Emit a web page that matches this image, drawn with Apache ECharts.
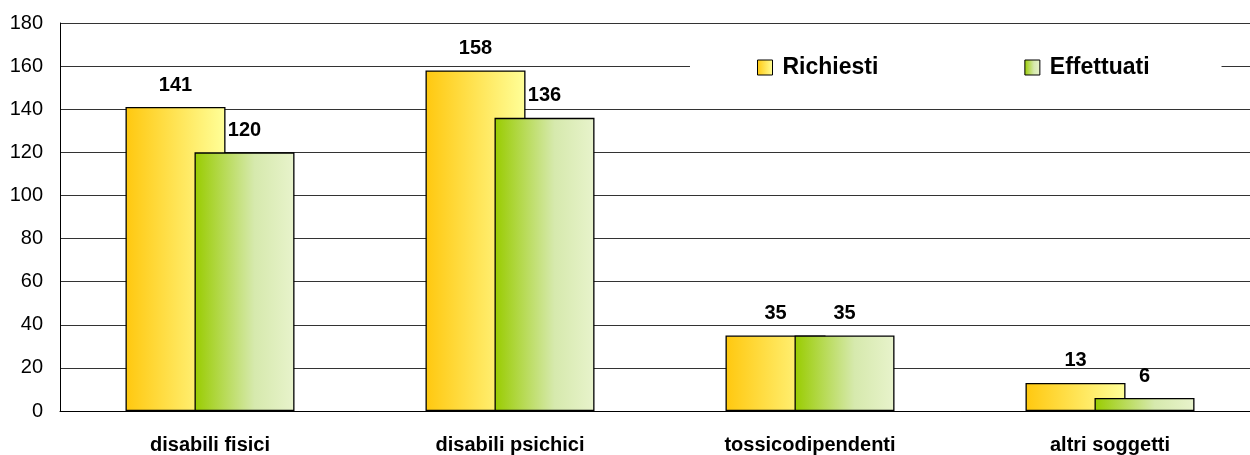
<!DOCTYPE html>
<html>
<head>
<meta charset="utf-8">
<script src="https://cdn.jsdelivr.net/npm/echarts@6/dist/echarts.min.js"></script>
<style>
  html, body { margin: 0; padding: 0; background: #fff; overflow: hidden; }
  /* il grafico originale prosegue oltre il bordo destro: canvas un po' piu' largo */
  #main { width: 1260px; height: 455px; }
</style>
</head>
<body>
<div id="main"></div>
<script>
const categories = ['disabili fisici', 'disabili psichici', 'tossicodipendenti', 'altri soggetti'];
const richiesti = [141, 158, 35, 13];
const effettuati = [120, 136, 35, 6];
const seriesNames = ['Richiesti', 'Effettuati'];

const font = '"Liberation Sans", Arial, sans-serif';

// gradienti orizzontali come nell'originale
const yellowFill = new echarts.graphic.LinearGradient(0, 0, 1, 0, [
    { offset: 0, color: '#ffc80f' },
    { offset: 1, color: '#ffff99' }
]);
const greenFill = new echarts.graphic.LinearGradient(0, 0, 1, 0, [
    { offset: 0, color: '#99cc00' },
    { offset: 0.6, color: '#d6e9ad' },
    { offset: 1, color: '#e8f3cc' }
]);

const barLabel = {
    show: true,
    position: 'top',
    distance: 12,
    color: '#000',
    fontFamily: font,
    fontWeight: 'bold',
    fontSize: 20
};

const chart = echarts.init(document.getElementById('main'));
chart.setOption({
    animation: false,
    backgroundColor: '#fff',
    grid: { left: 60, top: 23, width: 1200, height: 388, containLabel: false },
    legend: {
        data: seriesNames,
        left: 690,
        top: 48,
        backgroundColor: '#fff',
        padding: [8, 72, 8, 67],
        itemWidth: 15,
        itemHeight: 15,
        itemGap: 146,
        icon: 'rect',
        itemStyle: { borderColor: '#000', borderWidth: 1 },
        textStyle: {
            color: '#000',
            fontFamily: font,
            fontWeight: 'bold',
            fontSize: 23,
            padding: [0, 0, 0, 5]
        }
    },
    xAxis: {
        type: 'category',
        data: categories,
        axisLine: { show: true, lineStyle: { color: '#000', width: 1 } },
        axisTick: { show: false },
        axisLabel: {
            color: '#000',
            fontFamily: font,
            fontWeight: 'bold',
            fontSize: 20,
            margin: 24
        }
    },
    yAxis: {
        type: 'value',
        min: 0,
        max: 180,
        interval: 20,
        axisLine: { show: true, lineStyle: { color: '#000', width: 1 } },
        axisTick: { show: false },
        splitLine: { show: true, lineStyle: { color: '#333', width: 1 } },
        axisLabel: {
            color: '#000',
            fontFamily: font,
            fontSize: 20,
            margin: 17
        }
    },
    series: [
        {
            name: seriesNames[0],
            type: 'bar',
            data: richiesti,
            barWidth: 100,
            barGap: '-31%',
            itemStyle: { color: yellowFill, borderColor: '#000', borderWidth: 1.3 },
            label: barLabel
        },
        {
            name: seriesNames[1],
            type: 'bar',
            data: effettuati,
            barWidth: 100,
            itemStyle: { color: greenFill, borderColor: '#000', borderWidth: 1.3 },
            label: barLabel
        }
    ]
});
</script>
</body>
</html>
